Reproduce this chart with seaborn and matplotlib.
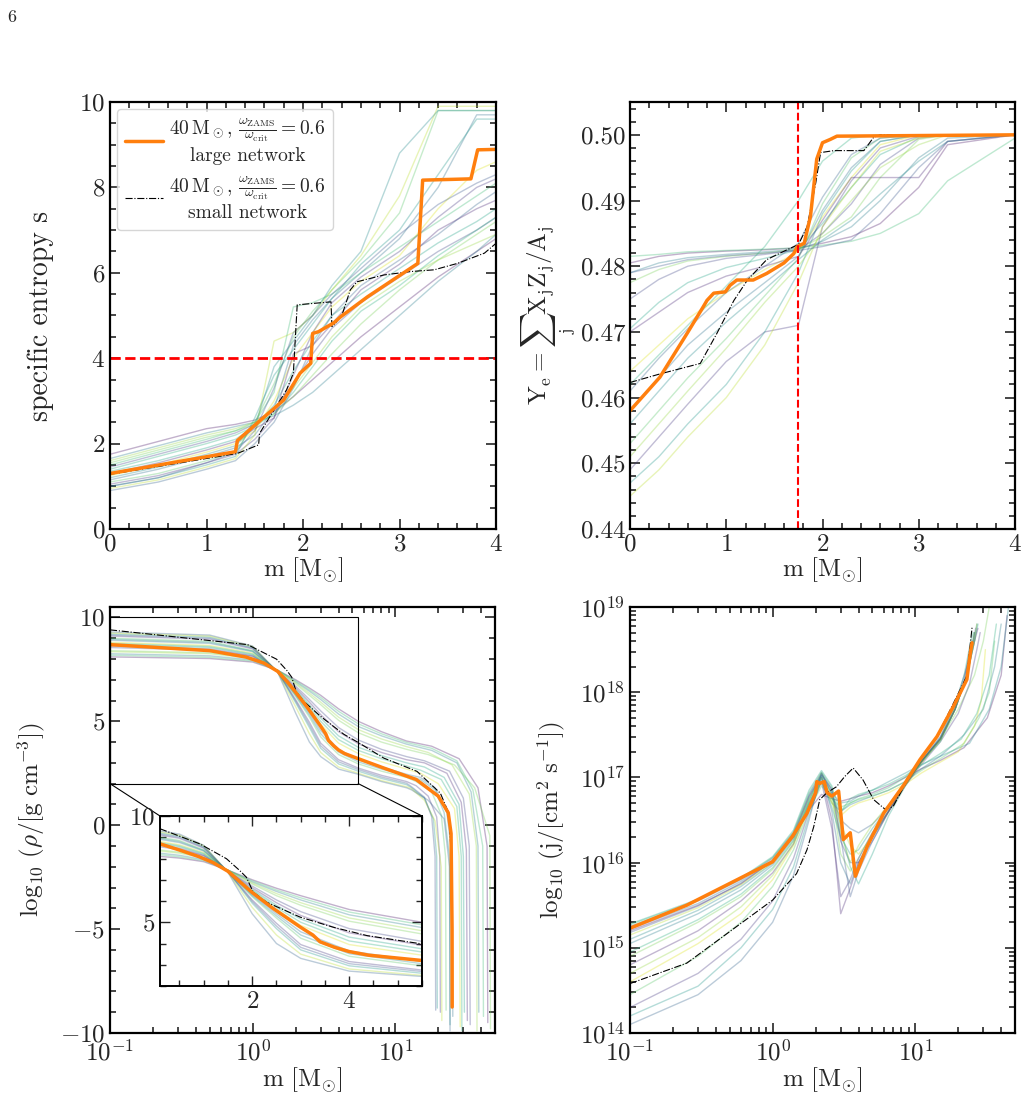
import numpy as np
import matplotlib
matplotlib.use("Agg")
import matplotlib.pyplot as plt
from matplotlib.ticker import MultipleLocator, LogLocator, NullFormatter, FormatStrFormatter
from matplotlib.patches import ConnectionPatch
import seaborn as sns

# ---------------- data ----------------
# specific entropy vs mass coordinate (top left)
s_orange_m = [0, 1.30, 1.32, 1.52, 1.80, 1.97, 2.08, 2.10, 2.16, 2.32, 2.39, 2.67, 3.01, 3.19, 3.24, 3.74, 3.81, 4.0]
s_orange = [1.30, 1.81, 2.07, 2.47, 3.02, 3.65, 3.88, 4.58, 4.62, 4.83, 4.97, 5.44, 5.95, 6.22, 8.17, 8.20, 8.88, 8.89]
s_black_m = [0, 1.32, 1.54, 1.55, 1.83, 1.90, 1.94, 2.29, 2.30, 2.33, 2.41, 2.49, 2.56, 2.84, 3.12, 3.36, 3.60, 3.88, 4.0]
s_black = [1.28, 1.77, 1.97, 2.24, 3.26, 3.65, 5.25, 5.32, 4.74, 4.80, 5.05, 5.60, 5.79, 5.95, 6.03, 6.07, 6.22, 6.46, 6.69]
s_nodes = [0, 0.5, 1.0, 1.3, 1.5, 1.7, 1.9, 2.1, 2.3, 2.6, 3.0, 3.4, 3.8, 4.0]
s_faint = [
    [1.75, 2.05, 2.35, 2.45, 2.55, 2.75, 3.1, 3.5, 3.9, 4.5, 5.2, 5.9, 6.5, 6.8],
    [1.65, 1.95, 2.25, 2.4, 2.5, 2.65, 2.9, 3.2, 3.6, 4.2, 5.0, 5.8, 6.5, 6.9],
    [1.55, 1.85, 2.15, 2.3, 2.45, 2.7, 3.1, 3.6, 4.1, 4.8, 5.6, 6.3, 6.9, 7.2],
    [1.45, 1.75, 2.05, 2.25, 2.45, 2.8, 3.4, 4.1, 4.7, 5.3, 5.9, 6.5, 7.0, 7.3],
    [1.35, 1.6, 1.9, 2.1, 2.4, 2.9, 3.7, 4.4, 5.0, 5.5, 6.1, 6.7, 7.2, 7.5],
    [1.25, 1.5, 1.8, 2.0, 2.3, 3.0, 4.0, 4.6, 5.2, 5.8, 6.4, 7.5, 8.4, 8.6],
    [1.15, 1.4, 1.7, 1.9, 2.2, 2.8, 4.3, 4.9, 5.4, 6.0, 6.8, 8.0, 9.7, 9.7],
    [1.1, 1.3, 1.6, 1.8, 2.5, 3.4, 4.5, 5.1, 5.6, 6.3, 7.4, 9.8, 9.8, 9.8],
    [1.05, 1.25, 1.55, 1.75, 2.1, 2.6, 3.6, 4.6, 5.3, 5.9, 6.5, 7.3, 8.0, 8.2],
    [1.0, 1.2, 1.5, 1.7, 2.6, 3.6, 4.2, 4.8, 5.4, 6.2, 7.0, 8.3, 9.6, 9.6],
    [0.95, 1.15, 1.45, 1.65, 2.2, 4.4, 4.6, 5.0, 5.6, 6.4, 7.8, 9.9, 9.9, 9.9],
    [0.9, 1.1, 1.4, 1.6, 2.0, 2.5, 3.3, 4.3, 5.0, 5.7, 6.3, 6.9, 7.6, 7.9],
    [1.5, 1.8, 2.1, 2.3, 2.5, 3.2, 5.2, 5.3, 5.5, 6.0, 6.6, 7.2, 7.8, 8.1],
    [1.3, 1.55, 1.85, 2.05, 2.35, 2.6, 4.1, 4.3, 4.8, 5.6, 6.2, 7.0, 7.5, 7.7],
    [1.2, 1.45, 1.75, 1.95, 2.4, 3.8, 4.4, 5.0, 5.7, 6.5, 8.8, 9.8, 9.8, 9.8],
    [1.6, 1.9, 2.2, 2.35, 2.5, 2.8, 3.3, 3.9, 4.5, 5.2, 5.8, 6.3, 6.7, 6.9],
    [1.0, 1.2, 1.55, 1.8, 2.3, 3.3, 4.6, 5.0, 5.5, 6.1, 6.9, 7.6, 8.1, 8.3],
    [1.4, 1.7, 2.0, 2.2, 2.4, 2.7, 3.2, 3.8, 4.4, 5.1, 5.7, 6.4, 7.0, 7.3],
]
s_cut = 4.0

# electron fraction (top right)
ye_orange_m = [0, 0.31, 0.59, 0.76, 0.80, 0.87, 0.99, 1.04, 1.11, 1.28, 1.42, 1.60, 1.70, 1.74, 1.81, 1.875, 1.94,
               2.0, 2.08, 2.15, 4.0]
ye_orange = [0.4580, 0.4631, 0.4697, 0.4738, 0.4748, 0.4759, 0.4761, 0.4771, 0.4779, 0.4779, 0.4789, 0.4805,
             0.4819, 0.4830, 0.4835, 0.4876, 0.4963, 0.4988, 0.4993, 0.4998, 0.5000]
ye_black_m = [0, 0.31, 0.73, 0.90, 1.08, 1.22, 1.42, 1.63, 1.75, 1.84, 1.93, 1.98, 2.12, 2.43, 2.53, 2.60, 4.0]
ye_black = [0.4623, 0.4636, 0.4652, 0.4697, 0.4748, 0.4779, 0.4810, 0.4825, 0.4833, 0.4860, 0.4927, 0.4973,
            0.4976, 0.4976, 0.4996, 0.5000, 0.5000]
ye_nodes = [0, 0.3, 0.6, 1.0, 1.4, 1.75, 2.0, 2.3, 2.6, 3.0, 3.3, 4.0]
ye_faint = [
    [0.4805, 0.4815, 0.4820, 0.4823, 0.4825, 0.4828, 0.4835, 0.4845, 0.4865, 0.4920, 0.4985, 0.500],
    [0.4790, 0.4805, 0.4813, 0.4818, 0.4822, 0.4826, 0.4838, 0.4860, 0.4900, 0.4965, 0.4995, 0.500],
    [0.4775, 0.4795, 0.4808, 0.4815, 0.4820, 0.4826, 0.4845, 0.4875, 0.4935, 0.4993, 0.500, 0.500],
    [0.4750, 0.4780, 0.4800, 0.4812, 0.4818, 0.4825, 0.4850, 0.4895, 0.4955, 0.4995, 0.500, 0.500],
    [0.4705, 0.4745, 0.4775, 0.4798, 0.4812, 0.4825, 0.4865, 0.4920, 0.4970, 0.4997, 0.500, 0.500],
    [0.4640, 0.4680, 0.4720, 0.4760, 0.4795, 0.4822, 0.4875, 0.4935, 0.4985, 0.500, 0.500, 0.500],
    [0.4580, 0.4630, 0.4680, 0.4730, 0.4775, 0.4815, 0.4885, 0.4950, 0.4990, 0.500, 0.500, 0.500],
    [0.4530, 0.4580, 0.4630, 0.4690, 0.4755, 0.4812, 0.4895, 0.4965, 0.4995, 0.500, 0.500, 0.500],
    [0.4490, 0.4540, 0.4590, 0.4655, 0.4700, 0.4710, 0.4860, 0.4930, 0.4980, 0.4998, 0.500, 0.500],
    [0.4470, 0.4510, 0.4560, 0.4620, 0.4700, 0.4790, 0.4880, 0.4945, 0.4990, 0.500, 0.500, 0.500],
    [0.4450, 0.4490, 0.4540, 0.4600, 0.4680, 0.4775, 0.4860, 0.4920, 0.4975, 0.4995, 0.500, 0.500],
    [0.4610, 0.4660, 0.4705, 0.4760, 0.4800, 0.4835, 0.4905, 0.4970, 0.4995, 0.500, 0.500, 0.500],
    [0.4815, 0.4818, 0.4822, 0.4824, 0.4826, 0.4828, 0.4832, 0.4838, 0.4850, 0.4880, 0.4930, 0.4995],
    [0.4700, 0.4730, 0.4760, 0.4785, 0.4800, 0.4815, 0.4870, 0.4935, 0.4935, 0.4935, 0.4990, 0.500],
    [0.4560, 0.4610, 0.4660, 0.4715, 0.4765, 0.4810, 0.4840, 0.4870, 0.4910, 0.4960, 0.4990, 0.500],
    [0.4510, 0.4560, 0.4610, 0.4675, 0.4745, 0.4800, 0.4850, 0.4900, 0.4950, 0.4985, 0.500, 0.500],
    [0.4790, 0.4800, 0.4810, 0.4816, 0.4820, 0.4824, 0.4830, 0.4840, 0.4880, 0.4950, 0.4990, 0.500],
    [0.4620, 0.4665, 0.4710, 0.4770, 0.4830, 0.4900, 0.4960, 0.4995, 0.500, 0.500, 0.500, 0.500],
]
ye_cut = 1.75

# log10 density (bottom left)
rho_orange_m = [0.1, 0.5, 0.9, 1.2, 1.5, 1.75, 2.0, 2.4, 3.0, 3.25, 3.4, 3.7, 4.0, 4.4, 5.5, 8.3, 14, 20, 23.5,
                24.6, 25.0, 25.05]
rho_orange = [8.69, 8.40, 8.09, 7.80, 7.40, 6.90, 6.40, 5.70, 4.76, 4.40, 4.08, 3.82, 3.62, 3.45, 3.20, 2.75,
              2.20, 1.40, 0.60, -0.40, -5.0, -8.75]
rho_black_m = [0.1, 0.92, 1.47, 1.74, 1.88, 2.02, 2.30, 2.99, 3.68, 4.37, 5.5, 8.3, 14.2, 20.7, 23.7, 25.0, 25.05]
rho_black = [9.40, 8.69, 7.99, 7.44, 7.12, 6.42, 5.94, 5.24, 4.76, 4.37, 3.98, 3.23, 2.59, 1.54, 0.58, -2.0, -8.75]
rho_nodes = [0.1, 0.5, 1.0, 1.5, 2.0, 2.5, 3.0, 4.0, 5.5, 8.0, 12.0]
rho_faint = [
    [8.10, 8.02, 7.85, 7.45, 7.00, 6.60, 6.25, 5.60, 5.00, 4.50, 4.05],
    [8.25, 8.15, 7.95, 7.45, 6.90, 6.45, 6.05, 5.35, 4.75, 4.30, 3.90],
    [8.40, 8.30, 8.05, 7.45, 6.80, 6.25, 5.80, 5.05, 4.45, 4.00, 3.65],
    [8.55, 8.42, 8.12, 7.42, 6.70, 6.05, 5.50, 4.70, 4.10, 3.65, 3.30],
    [8.70, 8.55, 8.20, 7.40, 6.55, 5.80, 5.15, 4.30, 3.75, 3.35, 3.00],
    [8.80, 8.65, 8.28, 7.40, 6.45, 5.60, 4.85, 3.95, 3.45, 3.05, 2.70],
    [8.90, 8.75, 8.35, 7.38, 6.30, 5.40, 4.55, 3.65, 3.15, 2.80, 2.45],
    [9.00, 8.85, 8.40, 7.38, 6.20, 5.20, 4.25, 3.40, 2.95, 2.60, 2.30],
    [9.10, 8.95, 8.48, 7.38, 6.05, 4.95, 3.95, 3.15, 2.75, 2.40, 2.10],
    [9.20, 9.05, 8.55, 7.38, 5.90, 4.70, 3.70, 2.95, 2.60, 2.25, 1.95],
    [9.25, 9.10, 8.60, 7.36, 5.70, 4.40, 3.50, 2.80, 2.50, 2.15, 1.85],
    [9.30, 9.15, 8.62, 7.35, 5.40, 4.00, 3.30, 2.70, 2.45, 2.10, 1.80],
    [8.18, 8.08, 7.90, 7.45, 6.95, 6.52, 6.15, 5.48, 4.88, 4.40, 3.98],
    [8.62, 8.48, 8.15, 7.41, 6.62, 5.92, 5.32, 4.50, 3.92, 3.50, 3.15],
    [8.95, 8.80, 8.38, 7.38, 6.25, 5.30, 4.40, 3.52, 3.05, 2.70, 2.38],
    [8.35, 8.25, 8.02, 7.45, 6.85, 6.35, 5.92, 5.20, 4.60, 4.15, 3.78],
    [9.15, 9.00, 8.52, 7.38, 5.98, 4.82, 3.82, 3.05, 2.68, 2.32, 2.02],
    [8.75, 8.60, 8.24, 7.40, 6.50, 5.70, 5.00, 4.12, 3.60, 3.20, 2.85],
]
rho_tail_m = [
    [18, 28, 38, 44, 44.5], [18, 27, 34, 38, 38.5], [17, 26, 36, 46, 46.5], [16, 24, 30, 33, 33.5],
    [16, 22, 28, 30, 30.5], [15, 20, 26, 28, 28.5], [15, 19, 23, 25, 25.3], [14, 18, 21, 22.5, 22.7],
    [14, 17, 19.5, 20.5, 20.7], [13, 16, 18.5, 19.5, 19.7], [13, 16, 19, 21, 21.2], [13, 17, 22, 24, 24.2],
    [18, 27, 35, 41, 41.5], [16, 23, 29, 31.5, 32], [15, 19, 22, 24, 24.2], [17, 25, 33, 37, 37.4],
    [13, 16, 18, 19, 19.2], [15, 21, 27, 29, 29.3],
]
rho_tail = [
    [3.8, 3.2, 1.8, -1.0, -9.5], [3.6, 3.0, 1.6, -1.0, -9.0], [3.4, 2.9, 1.8, -0.5, -9.8], [3.1, 2.6, 1.3, -1.0, -9.6],
    [2.8, 2.3, 1.0, -1.5, -9.0], [2.5, 2.0, 0.8, -1.5, -9.7], [2.3, 1.8, 0.6, -1.5, -9.2], [2.1, 1.6, 0.5, -1.5, -8.9],
    [1.9, 1.4, 0.4, -1.5, -9.0], [1.8, 1.3, 0.3, -1.5, -8.8], [1.75, 1.2, 0.2, -2.0, -9.4], [1.7, 1.2, 0.3, -2.0, -9.9],
    [3.7, 3.1, 1.7, -1.0, -9.2], [3.0, 2.5, 1.1, -1.2, -9.4], [2.2, 1.7, 0.6, -1.5, -9.6], [3.5, 2.9, 1.5, -1.0, -9.9],
    [1.85, 1.35, 0.4, -1.5, -8.9], [2.65, 2.2, 0.9, -1.5, -9.9],
]

# log10 specific angular momentum (bottom right)
j_orange_m = [0.1, 0.25, 1.0, 1.38, 1.74, 2.0, 2.04, 2.14, 2.3, 2.41, 2.6, 2.9, 3.13, 3.5, 3.8, 4.6, 6.0, 8.3,
              10.8, 14.2, 18.6, 23, 24.3, 25]
j_orange = [15.23, 15.50, 16.01, 16.31, 16.58, 16.82, 16.95, 16.93, 16.95, 16.82, 16.78, 16.84, 16.27, 16.35,
            15.84, 16.19, 16.58, 16.91, 17.21, 17.48, 17.84, 18.15, 18.46, 18.58]
j_black_m = [0.1, 0.25, 1.0, 1.47, 1.74, 1.94, 2.14, 2.4, 2.8, 3.2, 3.67, 4.3, 5.1, 6.2, 7.0, 8.3, 10.8, 14.2, 23, 25]
j_black = [14.58, 14.82, 15.56, 15.87, 16.15, 16.42, 16.74, 16.82, 16.89, 17.01, 17.11, 16.97, 16.74, 16.62,
           16.66, 16.89, 17.21, 17.48, 18.19, 18.76]
j_nodes = [0.1, 0.3, 0.6, 1.0, 1.4, 1.8, 2.2, 2.6, 3.0, 3.5, 4.0, 5.0, 6.5, 8.5, 11, 15]
j_faint = [
    [15.20, 15.50, 15.75, 16.02, 16.30, 16.62, 16.80, 16.75, 16.72, 16.75, 16.78, 16.82, 16.90, 17.00, 17.10, 17.20],
    [15.05, 15.40, 15.68, 15.97, 16.28, 16.70, 16.95, 16.70, 16.60, 16.68, 16.72, 16.78, 16.85, 16.95, 17.10, 17.25],
    [14.90, 15.30, 15.60, 15.92, 16.25, 16.72, 17.05, 16.80, 16.10, 15.90, 16.05, 16.35, 16.65, 16.95, 17.20, 17.45],
    [15.25, 15.55, 15.80, 16.05, 16.35, 16.80, 17.05, 16.85, 16.25, 16.00, 16.00, 16.25, 16.60, 16.92, 17.20, 17.48],
    [15.28, 15.57, 15.82, 16.07, 16.38, 16.85, 17.08, 16.90, 16.40, 15.95, 15.75, 16.10, 16.55, 16.90, 17.18, 17.47],
    [14.60, 15.05, 15.40, 15.80, 16.20, 16.65, 16.95, 16.70, 16.55, 16.65, 16.70, 16.75, 16.82, 16.92, 17.05, 17.18],
    [15.22, 15.52, 15.78, 16.03, 16.33, 16.78, 17.02, 16.60, 16.00, 15.75, 16.00, 16.30, 16.62, 16.92, 17.18, 17.45],
    [14.45, 14.90, 15.30, 15.72, 16.15, 16.62, 16.90, 16.75, 16.65, 16.70, 16.74, 16.78, 16.85, 16.95, 17.08, 17.22],
    [14.30, 14.70, 15.10, 15.55, 16.05, 16.60, 16.95, 16.40, 15.60, 15.80, 16.05, 16.35, 16.60, 16.90, 17.15, 17.42],
    [14.20, 14.55, 15.00, 15.45, 15.95, 16.55, 16.98, 16.65, 16.30, 16.10, 16.15, 16.40, 16.65, 16.92, 17.18, 17.45],
    [15.15, 15.47, 15.74, 16.00, 16.31, 16.75, 17.00, 16.78, 16.45, 16.20, 16.10, 16.30, 16.60, 16.90, 17.17, 17.45],
    [14.10, 14.45, 14.85, 15.30, 15.85, 16.50, 17.05, 16.80, 16.50, 16.40, 16.35, 16.45, 16.65, 16.92, 17.18, 17.44],
    [15.27, 15.56, 15.81, 16.06, 16.36, 16.82, 17.06, 16.88, 16.60, 16.70, 16.75, 16.80, 16.88, 17.00, 17.18, 17.42],
    [14.80, 15.20, 15.55, 15.88, 16.22, 16.68, 17.00, 16.50, 15.40, 15.70, 16.00, 16.30, 16.60, 16.92, 17.18, 17.45],
    [15.10, 15.44, 15.72, 15.99, 16.30, 16.74, 17.02, 16.82, 16.70, 16.72, 16.78, 16.85, 16.95, 17.05, 17.15, 17.25],
    [14.70, 15.12, 15.48, 15.85, 16.22, 16.66, 16.95, 16.72, 16.35, 16.00, 16.20, 16.45, 16.68, 16.93, 17.17, 17.44],
    [15.18, 15.49, 15.76, 16.02, 16.32, 16.77, 17.03, 16.86, 16.30, 15.60, 15.90, 16.25, 16.60, 16.91, 17.19, 17.46],
    [14.95, 15.33, 15.63, 15.94, 16.26, 16.71, 17.00, 16.76, 16.60, 16.75, 16.80, 16.85, 16.92, 17.02, 17.14, 17.28],
]
j_tail_m = [
    [22, 32, 40, 44], [22, 30, 36, 40], [20, 26, 30, 33], [19, 23, 25.5, 26.5],
    [19, 22, 24.5, 25.5], [20, 26, 29, 31], [19, 23, 26, 27], [22, 28, 33, 36],
    [20, 24, 27, 28.5], [19, 23, 26, 27.5], [19, 23, 25, 26], [19, 22, 24, 25],
    [19, 23, 25, 26], [19, 23, 26, 27.5], [24, 33, 40, 45], [19, 23, 26, 27],
    [19, 22, 25, 26], [21, 27, 33, 37],
]
j_tail = [
    [17.35, 17.7, 18.2, 18.9], [17.5, 17.8, 18.3, 18.8], [17.8, 18.2, 18.6, 19.0], [17.85, 18.3, 18.6, 18.75],
    [17.85, 18.2, 18.6, 18.7], [17.3, 17.6, 17.9, 18.5], [17.8, 18.2, 18.6, 18.8], [17.4, 17.7, 18.0, 18.6],
    [17.75, 18.1, 18.5, 18.7], [17.8, 18.2, 18.6, 18.8], [17.8, 18.2, 18.55, 18.7], [17.8, 18.1, 18.5, 18.6],
    [17.8, 18.2, 18.5, 18.7], [17.8, 18.2, 18.6, 18.75], [17.4, 17.8, 18.3, 19.0], [17.8, 18.2, 18.6, 18.8],
    [17.8, 18.15, 18.55, 18.7], [17.45, 17.75, 18.2, 18.8],
]

# ---------------- style ----------------
sns.set_style("ticks")
plt.rcParams["font.family"] = ["cmr10", "DejaVu Serif"]
plt.rcParams["mathtext.fontset"] = "cm"
plt.rcParams["axes.formatter.use_mathtext"] = True
plt.rcParams["axes.unicode_minus"] = True
plt.rcParams["axes.linewidth"] = 1.6
plt.rcParams["axes.edgecolor"] = "black"

ORANGE = "#ff7f0e"
FS = 18
N = len(s_faint)
pal = sns.color_palette("viridis", N)
FAINT = dict(lw=1.0, alpha=0.33, sort=False, estimator=None, legend=False)
LEG_LABEL = "$40\\,\\mathrm{M}_\\odot$, $\\frac{\\omega_\\mathrm{ZAMS}}{\\omega_\\mathrm{crit}}=0.6$\n"

W, H = 1028, 1107
fig = plt.figure(figsize=(W / 100, H / 100), dpi=100)


def box(l, t, r, b):
    return [l / W, 1 - b / H, (r - l) / W, (b - t) / H]


def col(i):
    # spread the viridis colours over the model set
    return pal[(i * 7) % N]


ax1 = fig.add_axes(box(110, 102, 496, 529))
ax2 = fig.add_axes(box(630, 102, 1015, 529))
ax3 = fig.add_axes(box(110, 607, 495, 1033))
ax4 = fig.add_axes(box(630, 607, 1015, 1033))
axin = fig.add_axes(box(160, 816, 422, 986))


def style(ax, fs=FS):
    ax.tick_params(which="both", direction="in", top=True, right=True, labelsize=fs, width=1.2)
    ax.tick_params(which="major", length=7)
    ax.tick_params(which="minor", length=4)


mlabel = r"$\mathrm{m}\ [\mathrm{M}_{\odot}]$"

# ---- top left: entropy ----
for i, ys in enumerate(s_faint):
    sns.lineplot(x=s_nodes, y=ys, ax=ax1, color=col(i), **FAINT)
sns.lineplot(x=s_black_m, y=s_black, ax=ax1, color="black", lw=0.8, linestyle="-.", sort=False, estimator=None,
             label=LEG_LABEL + "small network")
sns.lineplot(x=s_orange_m, y=s_orange, ax=ax1, color=ORANGE, lw=2.5, sort=False, estimator=None,
             label=LEG_LABEL + "large network")
ax1.axhline(s_cut, color="red", ls="--", lw=2)
ax1.set_xlim(0, 4)
ax1.set_ylim(0, 10)
ax1.xaxis.set_major_locator(MultipleLocator(1))
ax1.xaxis.set_minor_locator(MultipleLocator(0.2))
ax1.yaxis.set_major_locator(MultipleLocator(2))
ax1.yaxis.set_minor_locator(MultipleLocator(0.5))
ax1.set_xlabel(mlabel, fontsize=FS, labelpad=0)
ax1.set_ylabel("specific entropy s", fontsize=20, labelpad=18)
style(ax1)
h, l = ax1.get_legend_handles_labels()
leg = ax1.legend(h[::-1], l[::-1], loc="upper left", fontsize=14, handlelength=2.0, borderaxespad=0.35,
                 labelspacing=0.5, handletextpad=0.3, frameon=True, fancybox=True)
for t in leg.get_texts():
    t.set_multialignment("center")

# ---- top right: Ye ----
for i, ys in enumerate(ye_faint):
    sns.lineplot(x=ye_nodes, y=ys, ax=ax2, color=col(i), **FAINT)
sns.lineplot(x=ye_black_m, y=ye_black, ax=ax2, color="black", lw=0.8, linestyle="-.", sort=False, estimator=None)
sns.lineplot(x=ye_orange_m, y=ye_orange, ax=ax2, color=ORANGE, lw=2.5, sort=False, estimator=None)
ax2.axvline(ye_cut, color="red", ls="--", lw=1.5)
ax2.set_xlim(0, 4)
ax2.set_ylim(0.44, 0.505)
ax2.xaxis.set_major_locator(MultipleLocator(1))
ax2.xaxis.set_minor_locator(MultipleLocator(0.2))
ax2.yaxis.set_major_locator(MultipleLocator(0.01))
ax2.yaxis.set_minor_locator(MultipleLocator(0.002))
ax2.yaxis.set_major_formatter(FormatStrFormatter("%.2f"))
ax2.set_xlabel(mlabel, fontsize=FS, labelpad=0)
ax2.set_ylabel(r"$\mathrm{Y_e}=\sum_{\mathrm{j}}\mathrm{X_j Z_j/A_j}$", fontsize=FS, labelpad=2)
style(ax2)

# ---- bottom left: density with inset ----
for axx in (ax3, axin):
    for i, ys in enumerate(rho_faint):
        sns.lineplot(x=rho_nodes + rho_tail_m[i], y=ys + rho_tail[i], ax=axx, color=col(i), **FAINT)
    sns.lineplot(x=rho_black_m, y=rho_black, ax=axx, color="black", lw=0.8, linestyle="-.", sort=False,
                 estimator=None)
    sns.lineplot(x=rho_orange_m, y=rho_orange, ax=axx, color=ORANGE, lw=2.5, sort=False, estimator=None)
ax3.set_xscale("log")
ax3.set_xlim(0.1, 50)
ax3.set_ylim(-10, 10.5)
ax3.yaxis.set_major_locator(MultipleLocator(5))
ax3.yaxis.set_minor_locator(MultipleLocator(1))
ax3.set_xlabel(mlabel, fontsize=FS, labelpad=0)
ax3.set_ylabel(r"$\log_{10}\,(\rho/[\mathrm{g\ cm^{-3}}])$", fontsize=FS, labelpad=9)
style(ax3)
ax3.tick_params(axis="x", pad=5)

axin.set_xlim(0.1, 5.5)
axin.set_ylim(2, 10)
axin.xaxis.set_major_locator(MultipleLocator(2))
axin.xaxis.set_minor_locator(MultipleLocator(0.5))
axin.yaxis.set_major_locator(MultipleLocator(5))
axin.yaxis.set_minor_locator(MultipleLocator(1))
axin.set_xlabel("")
axin.set_ylabel("")
style(axin)
axin.tick_params(which="both", width=1.0)
for sp in axin.spines.values():
    sp.set_linewidth(1.4)

# zoom rectangle + connectors (bottom corners of the rectangle to the top corners of the inset)
x0, x1 = axin.get_xlim()
y0, y1 = axin.get_ylim()
ax3.indicate_inset([x0, y0, x1 - x0, y1 - y0], edgecolor="black", alpha=1.0, linewidth=0.8)
for xa, xb in ((x0, 0), (x1, 1)):
    con = ConnectionPatch(xyA=(xa, y0), coordsA=ax3.transData, xyB=(xb, 1), coordsB=axin.transAxes,
                          color="black", lw=0.8)
    ax3.add_artist(con)

# ---- bottom right: specific angular momentum ----
for i, ys in enumerate(j_faint):
    sns.lineplot(x=j_nodes + j_tail_m[i], y=[10 ** v for v in ys + j_tail[i]], ax=ax4, color=col(i), **FAINT)
sns.lineplot(x=j_black_m, y=[10 ** v for v in j_black], ax=ax4, color="black", lw=0.8, linestyle="-.",
             sort=False, estimator=None)
sns.lineplot(x=j_orange_m, y=[10 ** v for v in j_orange], ax=ax4, color=ORANGE, lw=2.5, sort=False,
             estimator=None)
ax4.set_xscale("log")
ax4.set_yscale("log")
ax4.set_xlim(0.1, 50)
ax4.set_ylim(1e14, 1e19)
ax4.yaxis.set_minor_locator(LogLocator(base=10, subs=np.arange(2, 10)))
ax4.yaxis.set_minor_formatter(NullFormatter())
ax4.set_xlabel(mlabel, fontsize=FS, labelpad=0)
ax4.set_ylabel(r"$\log_{10}\,(\mathrm{j}/[\mathrm{cm^2\ s^{-1}}])$", fontsize=FS, labelpad=9)
style(ax4)
ax4.tick_params(axis="x", pad=5)

fig.text(7 / W, 1 - 22 / H, "6", fontsize=13)

fig.savefig("out.png", dpi=100)
